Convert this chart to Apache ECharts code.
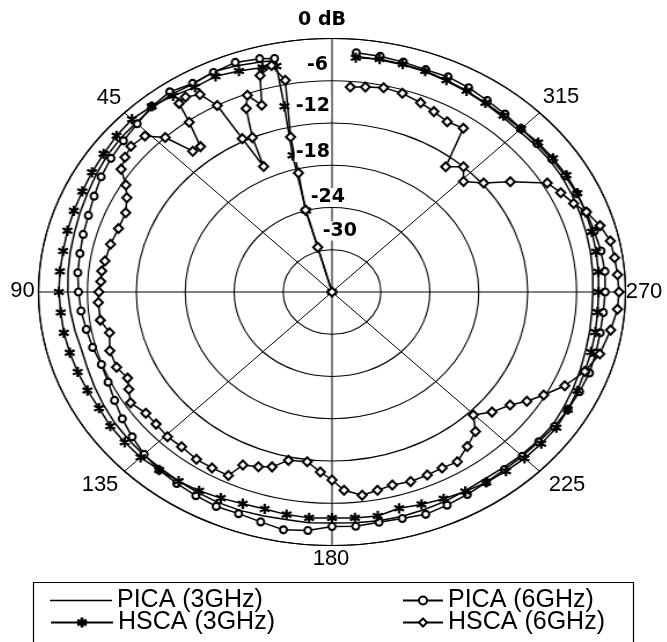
<!DOCTYPE html>
<html><head><meta charset="utf-8">
<script src="https://cdn.jsdelivr.net/npm/echarts@6/dist/echarts.min.js"></script>
<style>
html,body{margin:0;padding:0;background:#fff;}
#wrap{position:relative;width:667px;height:642px;overflow:hidden;background:#fff;}
#plot{position:absolute;left:51.5px;top:12px;width:560px;height:560px;transform:scaleX(1.1578);transform-origin:280px 280px;}
#over{position:absolute;left:0;top:0;width:667px;height:642px;}
</style></head>
<body><div id="wrap"><div id="plot"></div><div id="over"></div></div>
<script>
// ---- data (angle in degrees, counter-clockwise from top; value in dB) ----
const ANGLES = [12,15,20,25,30,35,40,45,50,55,60,65,70,75,80,85,90,95,100,105,110,115,120,125,130,135,140,145,150,155,160,165,170,175,180,185,190,195,200,205,210,215,220,225,230,235,240,245,250,255,260,265,270,275,280,285,290,295,300,305,310,315,320,325,330,335,340,345,350,355];

const PICA_3 = [-2.4,-2.2,-1.8,-1.5,-1.9,-1.7,-1.8,-2.0,-2.1,-2.3,-2.6,-2.9,-3.1,-3.3,-3.4,-3.5,-3.6,-3.8,-4.0,-4.2,-4.1,-3.9,-3.7,-3.5,-3.4,-3.3,-3.3,-3.2,-3.1,-3.0,-3.0,-3.1,-3.2,-3.1,-3.2,-3.1,-3.0,-3.0,-3.1,-3.2,-3.4,-3.5,-3.4,-3.2,-3.1,-3.0,-3.2,-3.4,-3.6,-3.8,-3.9,-4.0,-4.0,-3.9,-3.8,-3.7,-3.6,-3.5,-3.4,-3.4,-3.5,-3.6,-3.5,-3.3,-3.1,-2.9,-2.7,-2.6,-2.5,-2.4];

const PICA_6 = [-2.1,-1.7,-1.3,-1.6,-1.8,-1.3,-1.6,-2.2,-2.6,-2.9,-3.3,-3.8,-4.2,-4.4,-4.6,-4.7,-4.9,-5.1,-5.4,-5.6,-5.9,-5.7,-5.2,-4.6,-4.0,-3.4,-3.0,-2.8,-2.6,-2.4,-2.5,-2.2,-1.7,-2.0,-2.7,-2.6,-2.8,-2.7,-2.4,-2.6,-2.8,-3.0,-3.1,-3.0,-2.9,-2.7,-2.6,-2.5,-2.4,-2.5,-2.6,-2.6,-2.5,-2.4,-2.5,-2.7,-2.8,-2.9,-3.0,-3.1,-3.2,-3.2,-3.0,-2.8,-2.5,-2.3,-2.4,-2.2,-2.0,-1.9];

const HSCA_3_LEAD_ANG = [15.4,15.4,14,12.5];
const HSCA_3_LEAD_DB = [-36,-24,-16,-9];
const HSCA_3 = [-3.2,-3.0,-2.6,-2.2,-2.4,-2.0,-1.6,-1.3,-1.5,-1.8,-2.0,-2.2,-2.3,-2.4,-2.5,-2.5,-2.5,-2.6,-2.6,-2.7,-2.8,-2.9,-3.0,-2.8,-2.8,-2.8,-3.0,-3.2,-3.4,-3.7,-4.0,-4.1,-3.9,-3.8,-3.9,-3.8,-3.7,-4.2,-3.9,-3.6,-3.3,-3.0,-2.8,-2.6,-2.5,-2.4,-2.6,-2.8,-3.0,-3.1,-3.2,-3.3,-3.3,-3.2,-3.1,-3.0,-2.9,-2.8,-2.8,-2.9,-3.0,-3.2,-3.3,-3.2,-3.0,-2.8,-2.6,-2.5,-2.4,-2.6];

const HSCA_6_ANG = [15.4,15.4,15.6,13.7,13,10.8,13,16,18,20.4,22,24,25.2,26.8,28,30,33,35,36,38,40.5,43,46,50,53,56,59,62,66,71,76,81,84,87,90,93,98,102,107,112,116,119,122.5,127,131,135.5,140,145,149.5,154,156,160,163.5,167.4,172.8,176.8,180,183,187.3,191.2,195.1,199.7,204.2,208.4,212.5,217.1,221.6,224.8,229,233.7,237,240.6,245,250,255,261,266,270,274,278,282,286,290,293,296.7,300.4,305.6,309.8,314.2,317.8,321.9,325.3,329.7,334,338,343,347.7,352,355.6];
const HSCA_6 = [-36,-29.4,-23.9,-18.6,-13.4,-5.4,-3.0,-4.0,-8.1,-6.2,-7.9,-12,-16.3,-11.6,-6,-3.6,-3.0,-3.3,-6.2,-9.8,-9.7,-6,-4.1,-3.8,-4.2,-4.8,-6.5,-7.5,-8.3,-8.3,-8.0,-7.8,-7.6,-7.6,-7.4,-7.3,-7.3,-8.1,-7.5,-7.5,-8.1,-7.5,-6.7,-7.4,-7.4,-7.2,-7.3,-7.0,-7.0,-7.0,-9.1,-9.6,-10.1,-11.5,-11.7,-10.4,-9.3,-7.8,-6.9,-7.3,-7.6,-7.4,-7.5,-7.6,-7.4,-8.5,-9.5,-11.4,-10,-8.9,-7.5,-6.2,-4.5,-3.0,-2.0,-1.4,-0.9,-0.8,-0.9,-1.0,-1.1,-1.8,-2.8,-3.8,-4.6,-5.4,-9.1,-11.8,-13.5,-12,-13.4,-7.7,-8.0,-7.5,-7.0,-6.5,-6.3,-6.6,-6.8];

const SERIES_NAMES = ['PICA (3GHz)','PICA (6GHz)','HSCA (3GHz)','HSCA (6GHz)'];
const RADIAL_TICKS = ['-6','-12','-18','-24','-30'];
const ANGLE_TICKS = ['45','90','135','180','225','270','315'];

// ---- build ----
function pairs(angs, vals){ return vals.map((v,i)=>[v, angs[i]]); }
const dPICA3 = pairs(ANGLES, PICA_3);
const dPICA6 = pairs(ANGLES, PICA_6);
const dHSCA3 = pairs(HSCA_3_LEAD_ANG.concat(ANGLES), HSCA_3_LEAD_DB.concat(HSCA_3));
const dHSCA6 = pairs(HSCA_6_ANG, HSCA_6);

const STAR = 'path://M4.4,0L5.6,0L5.6,10L4.4,10Z M0.97,1.98L9.63,6.98L9.03,8.02L0.37,3.02Z M0.37,6.98L9.03,1.98L9.63,3.02L0.97,8.02Z';
const LINE_ICON = 'path://M0,0L0.01,0L0,0.01Z M0,4.3L62,4.3L62,5.7L0,5.7Z M62,10L61.99,10L62,9.99Z';
const K = 1.1578;
const symbolDefs = [
  {symbol:'none', size:0},
  {symbol:'emptyCircle', size:7},
  {symbol:STAR, size:9},
  {symbol:'emptyDiamond', size:9}
];
const datas = [dPICA3, dPICA6, dHSCA3, dHSCA6];

const plot = echarts.init(document.getElementById('plot'), null, {renderer:'canvas'});
plot.setOption({
  animation:false,
  polar:{center:['50%','50%'], radius:253.5},
  angleAxis:{type:'value', min:0, max:360, interval:45, startAngle:90, clockwise:false,
    axisLine:{show:true, lineStyle:{color:'#000', width:1.2}},
    axisTick:{show:false}, axisLabel:{show:false},
    splitLine:{show:true, lineStyle:{color:'#000', width:1}}},
  radiusAxis:{type:'value', min:-36, max:0, interval:6,
    axisLine:{show:false}, axisTick:{show:false}, axisLabel:{show:false},
    splitLine:{show:true, lineStyle:{color:'#000', width:1.1}}},
  series: datas.map((d,i)=>({
    type:'line', coordinateSystem:'polar', name:SERIES_NAMES[i], data:d,
    symbol:symbolDefs[i].symbol, symbolSize:[symbolDefs[i].size/K, symbolDefs[i].size],
    showSymbol: i!==0, clip:true,
    lineStyle:{color:'#000', width:1.5},
    itemStyle:{color:'#000', borderColor:'#000', borderWidth:1.2}
  }))
});

// overlay: legend and text labels (unscaled)
const over = echarts.init(document.getElementById('over'), null, {renderer:'canvas'});
const labelFontB = {fontFamily:'DejaVu Sans', fontWeight:'bold', fontSize:19, fill:'#000'};
const labelFont = {fontFamily:'Liberation Sans', fontSize:22, fill:'#000'};
const radialPos = [[329,65,'right'],[331,106.5,'right'],[331,152.5,'right'],[346,197.5,'right'],[358,231,'right']];
const anglePos = [[109,97.5],[22.5,290.5],[100,485],[331,559],[567,485],[644,291.5],[561,97]];
const graphics = [];
graphics.push({type:'text', x:322, y:20, style:Object.assign({text:'0 dB', align:'center', verticalAlign:'middle'}, labelFontB)});
RADIAL_TICKS.forEach((t,i)=>{
  graphics.push({type:'text', x:radialPos[i][0], y:radialPos[i][1], style:Object.assign({text:t, align:radialPos[i][2], verticalAlign:'middle', backgroundColor:'#fff', padding:[0,1]}, labelFontB)});
});
ANGLE_TICKS.forEach((t,i)=>{
  graphics.push({type:'text', x:anglePos[i][0], y:anglePos[i][1], style:Object.assign({text:t, align:'center', verticalAlign:'middle'}, labelFont)});
});
graphics.push({type:'rect', shape:{x:33.5, y:582.5, width:600, height:62}, style:{fill:'none', stroke:'#000', lineWidth:1.2}});

const legendText = {fontFamily:'Liberation Sans', fontSize:25, color:'#000'};
const legendPos = [[50,588,62],[402,588,40],[50,610,62],[402,610,40]];
over.setOption({
  animation:false,
  grid:{show:false, left:-50, top:-50, width:10, height:10},
  xAxis:{type:'value', show:false}, yAxis:{type:'value', show:false},
  legend: SERIES_NAMES.map((n,i)=>({
    left:legendPos[i][0], top:legendPos[i][1], itemWidth:legendPos[i][2], itemHeight:10, padding:0,
    data:[ i===0 ? {name:n, icon:LINE_ICON, itemStyle:{color:'#000', borderWidth:0, borderColor:'rgba(0,0,0,0)'}} : n ],
    textStyle:legendText, selectedMode:false
  })),
  series: SERIES_NAMES.map((n,i)=>({
    type:'line', name:n, data:[], symbol: i===0 ? 'emptyCircle' : symbolDefs[i].symbol,
    lineStyle:{color:'#000', width:1.4}, itemStyle:{color:'#000', borderColor:'#000', borderWidth:1.2}
  })),
  graphic: graphics
});
</script>
</body></html>
